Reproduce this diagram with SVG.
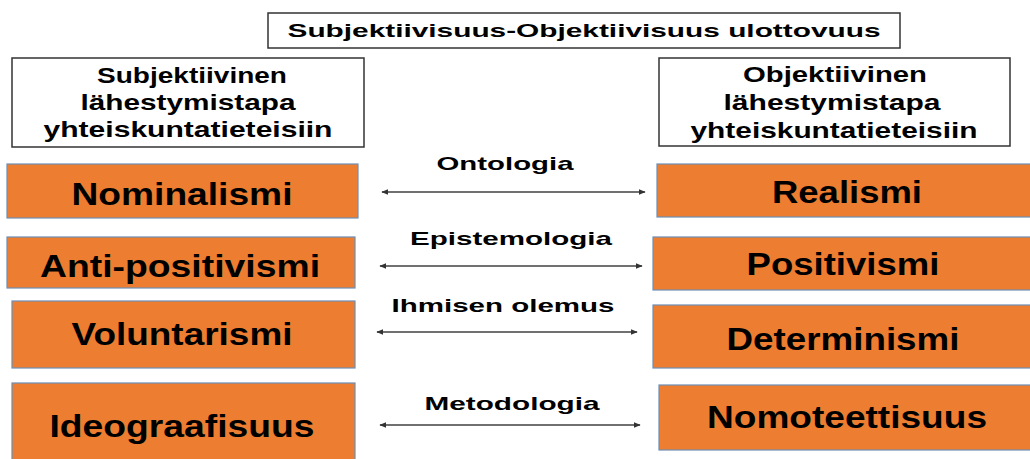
<svg xmlns="http://www.w3.org/2000/svg" width="1030" height="459" viewBox="0 0 1030 459">
<defs>
<style>
text{font-family:"Liberation Sans",Arial,sans-serif;font-weight:bold;fill:#000;text-anchor:middle}
.hdr{fill:#fff;stroke:#333;stroke-width:1.5}
.box{fill:#ED7D31;stroke:#6d8fb5;stroke-width:1.2}
.t{font-size:31px}
.h{font-size:22px}
.lbl{font-size:19px}
.arr{stroke:#404040;stroke-width:1.5;fill:none;marker-start:url(#ah);marker-end:url(#ah)}
</style>
<marker id="ah" viewBox="0 0 10 10" refX="9" refY="5" markerWidth="7" markerHeight="7" markerUnits="userSpaceOnUse" orient="auto-start-reverse">
<path d="M0,1 L10,5 L0,9 z" fill="#333"/>
</marker>
</defs>
<rect width="1030" height="459" fill="#fff"/>
<g id="title">
<rect class="hdr" x="268" y="13" width="632" height="35"/>
<text class="lbl" x="584" y="37" textLength="593" lengthAdjust="spacingAndGlyphs">Subjektiivisuus-Objektiivisuus ulottovuus</text>
</g>
<g id="subj-header">
<rect class="hdr" x="12" y="58" width="352" height="89"/>
<text class="h" x="192" y="83" textLength="190" lengthAdjust="spacingAndGlyphs">Subjektiivinen</text>
<text class="h" x="188" y="110" textLength="215" lengthAdjust="spacingAndGlyphs">lähestymistapa</text>
<text class="h" x="188" y="137" textLength="289" lengthAdjust="spacingAndGlyphs">yhteiskuntatieteisiin</text>
</g>
<g id="obj-header">
<rect class="hdr" x="659" y="58" width="351" height="88"/>
<text class="h" x="835" y="82" textLength="184" lengthAdjust="spacingAndGlyphs">Objektiivinen</text>
<text class="h" x="832" y="110" textLength="217" lengthAdjust="spacingAndGlyphs">lähestymistapa</text>
<text class="h" x="834" y="138" textLength="287" lengthAdjust="spacingAndGlyphs">yhteiskuntatieteisiin</text>
</g>
<g id="nominalismi">
<rect class="box" x="7" y="164" width="351" height="54"/>
<text class="t" x="182" y="205" textLength="221" lengthAdjust="spacingAndGlyphs">Nominalismi</text>
</g>
<g id="anti-positivismi">
<rect class="box" x="7" y="237" width="348" height="51"/>
<text class="t" x="180" y="277" textLength="280" lengthAdjust="spacingAndGlyphs">Anti-positivismi</text>
</g>
<g id="voluntarismi">
<rect class="box" x="12" y="301" width="343" height="67"/>
<text class="t" x="182" y="345" textLength="221" lengthAdjust="spacingAndGlyphs">Voluntarismi</text>
</g>
<g id="ideograafisuus">
<rect class="box" x="12" y="383" width="343" height="82"/>
<text class="t" x="182" y="437" textLength="265" lengthAdjust="spacingAndGlyphs">Ideograafisuus</text>
</g>
<g id="realismi">
<rect class="box" x="657" y="164" width="385" height="53"/>
<text class="t" x="847" y="203" textLength="150" lengthAdjust="spacingAndGlyphs">Realismi</text>
</g>
<g id="positivismi">
<rect class="box" x="653" y="237" width="389" height="53"/>
<text class="t" x="843" y="275" textLength="193" lengthAdjust="spacingAndGlyphs">Positivismi</text>
</g>
<g id="determinismi">
<rect class="box" x="653" y="305" width="389" height="63"/>
<text class="t" x="843" y="350" textLength="233" lengthAdjust="spacingAndGlyphs">Determinismi</text>
</g>
<g id="nomoteettisuus">
<rect class="box" x="659" y="385" width="383" height="65"/>
<text class="t" x="847" y="428" textLength="280" lengthAdjust="spacingAndGlyphs">Nomoteettisuus</text>
</g>
<g id="connectors">
<line class="arr" x1="382" y1="192" x2="645" y2="192"/>
<text class="lbl" x="505" y="170" textLength="137" lengthAdjust="spacingAndGlyphs">Ontologia</text>
<line class="arr" x1="380" y1="266" x2="642" y2="266"/>
<text class="lbl" x="511" y="245" textLength="202" lengthAdjust="spacingAndGlyphs">Epistemologia</text>
<line class="arr" x1="377" y1="332" x2="637" y2="332"/>
<text class="lbl" x="503" y="312" textLength="223" lengthAdjust="spacingAndGlyphs">Ihmisen olemus</text>
<line class="arr" x1="380" y1="425" x2="640" y2="425"/>
<text class="lbl" x="512" y="410" textLength="175" lengthAdjust="spacingAndGlyphs">Metodologia</text>
</g>
</svg>
